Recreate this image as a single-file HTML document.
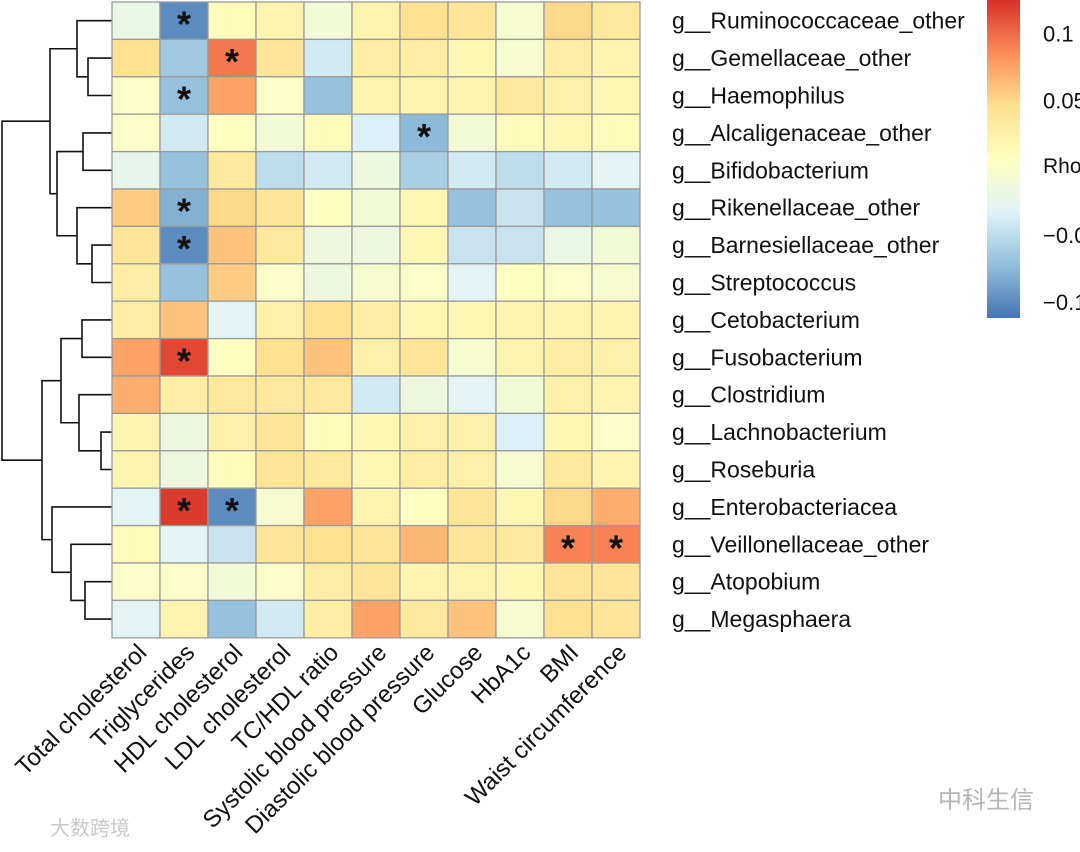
<!DOCTYPE html>
<html><head><meta charset="utf-8"><style>
html,body{margin:0;padding:0;background:#fff;}
svg text{font-family:"Liberation Sans","Noto Sans CJK SC",sans-serif;}
</style></head><body>
<svg id="chart" width="1080" height="847" viewBox="0 0 1080 847" xmlns="http://www.w3.org/2000/svg">
<defs>
<linearGradient id="rhoGrad" x1="0" y1="0" x2="0" y2="1">
<stop offset="0" stop-color="#D73027"/><stop offset="0.1667" stop-color="#FC8D59"/><stop offset="0.3333" stop-color="#FEE090"/><stop offset="0.5" stop-color="#FFFFBF"/><stop offset="0.6667" stop-color="#E0F3F8"/><stop offset="0.8333" stop-color="#91BFDB"/><stop offset="1" stop-color="#4575B4"/>
</linearGradient>
</defs>
<g id="dendro"></g>
<g id="cells"></g>
<g id="rowlabels"></g>
<g id="collabels"></g>
<g>
<rect x="987" y="0" width="33" height="318" fill="url(#rhoGrad)"/>
<g id="legendticks"></g>
<text x="1043" y="173" font-size="21" fill="#111">Rho</text>
</g>
<text x="938" y="808" font-size="24" fill="#b5b5b5">中科生信</text>
<text x="50" y="835" font-size="20" fill="#c8c8c8">大数跨境</text>
</svg>
<script>
const rowNames=["g__Ruminococcaceae_other","g__Gemellaceae_other","g__Haemophilus","g__Alcaligenaceae_other","g__Bifidobacterium","g__Rikenellaceae_other","g__Barnesiellaceae_other","g__Streptococcus","g__Cetobacterium","g__Fusobacterium","g__Clostridium","g__Lachnobacterium","g__Roseburia","g__Enterobacteriacea","g__Veillonellaceae_other","g__Atopobium","g__Megasphaera"];
const colNames=["Total cholesterol","Triglycerides","HDL cholesterol","LDL cholesterol","TC/HDL ratio","Systolic blood pressure","Diastolic blood pressure","Glucose","HbA1c","BMI","Waist circumference"];
const rho=[
[-0.02,-0.10,0.01,0.02,-0.01,0.02,0.045,0.04,-0.005,0.05,0.035],
[0.045,-0.065,0.095,0.04,-0.04,0.03,0.03,0.015,-0.005,0.03,0.02],
[0.0,-0.07,0.075,0.0,-0.07,0.02,0.02,0.02,0.035,0.025,0.015],
[0.0,-0.04,0.005,-0.01,0.01,-0.035,-0.075,-0.01,0.01,0.015,0.01],
[-0.025,-0.07,0.035,-0.05,-0.04,-0.015,-0.06,-0.04,-0.05,-0.04,-0.03],
[0.055,-0.08,0.05,0.04,0.005,-0.01,0.015,-0.07,-0.045,-0.07,-0.07],
[0.04,-0.10,0.06,0.035,-0.015,-0.015,0.015,-0.045,-0.045,-0.02,-0.01],
[0.03,-0.07,0.055,0.0,-0.015,-0.005,0.0,-0.03,0.005,0.0,-0.005],
[0.03,0.06,-0.03,0.025,0.045,0.03,0.015,0.015,0.02,0.02,0.02],
[0.075,0.115,0.005,0.045,0.06,0.025,0.04,-0.005,0.02,0.03,0.025],
[0.07,0.03,0.035,0.035,0.035,-0.04,-0.015,-0.03,-0.01,0.025,0.02],
[0.02,-0.015,0.025,0.04,0.01,0.015,0.025,0.025,-0.035,0.015,0.0],
[0.02,-0.015,0.01,0.04,0.035,0.015,0.03,0.025,-0.005,0.035,0.02],
[-0.03,0.12,-0.10,-0.005,0.075,0.02,0.005,0.04,0.015,0.05,0.07],
[0.01,-0.03,-0.045,0.04,0.045,0.04,0.065,0.04,0.035,0.09,0.09],
[0.0,0.0,-0.01,0.0,0.03,0.04,0.02,0.02,0.015,0.04,0.04],
[-0.03,0.02,-0.07,-0.04,0.03,0.075,0.035,0.06,-0.005,0.045,0.04]];
const sigCells=[[0,1],[1,2],[2,1],[3,6],[5,1],[6,1],[9,1],[13,1],[13,2],[14,9],[14,10]];
const legendTicks=[0.1,0.05,-0.05,-0.1];
const legendTickText=["0.1","0.05","\u22120.05","\u22120.1"];
// dendrogram merges: [leftChild,rightChild,height]; leaves = row index, nodes = "n"+index
const merges=[
[1,2,88],[6,7,92],[3,4,83],[5,"n1",77],[0,"n0",77],["n2","n3",57],["n4","n5",50],
[11,12,101],[8,9,82],[10,"n7",79],["n8","n9",61],[15,16,85],[14,"n11",71],[13,"n12",52],["n10","n13",42],["n6","n14",2]];

const NS="http://www.w3.org/2000/svg";
const gx0=112,gy0=2,cw=48,ch=37.4,vmin=-0.112,vmax=0.125;
const stops=[[0,"#4575B4"],[1/6,"#91BFDB"],[2/6,"#E0F3F8"],[3/6,"#FFFFBF"],[4/6,"#FEE090"],[5/6,"#FC8D59"],[1,"#D73027"]];
function hex(h){return [1,3,5].map(i=>parseInt(h.substr(i,2),16));}
function color(v){let t=(v-vmin)/(vmax-vmin);t=Math.max(0,Math.min(1,t));
for(let i=0;i<stops.length-1;i++){if(t<=stops[i+1][0]){const a=hex(stops[i][1]),b=hex(stops[i+1][1]);const f=(t-stops[i][0])/(stops[i+1][0]-stops[i][0]);
return "rgb("+a.map((c,k)=>Math.round(c+(b[k]-c)*f)).join(",")+")";}}return stops[6][1];}
const xOf=c=>gx0+c*cw, yOf=r=>gy0+r*ch;
const legY=v=>(vmax-v)/(vmax-vmin)*318;
function mk(tag,attrs,parent){const e=document.createElementNS(NS,tag);for(const k in attrs)e.setAttribute(k,attrs[k]);parent.appendChild(e);return e;}

const cells=document.getElementById("cells");
rho.forEach((row,r)=>row.forEach((v,c)=>{
const e=mk("rect",{x:xOf(c),y:yOf(r),width:cw,height:ch,fill:color(v),stroke:"#9a9a9a","stroke-width":1.3},cells);


}));
sigCells.forEach(([r,c])=>{
const t=mk("text",{x:xOf(c)+cw/2,y:yOf(r)+ch/2+16,"text-anchor":"middle","font-size":36,"font-weight":"bold",fill:"#111"},cells);
t.textContent="*";


});
const rl=document.getElementById("rowlabels");
rowNames.forEach((n,r)=>{
const t=mk("text",{x:672,y:yOf(r)+ch/2+8,"font-size":23,fill:"#111"},rl);
t.textContent=n;


});
const cl=document.getElementById("collabels");
colNames.forEach((n,c)=>{
const x=xOf(c)+cw/2+12,y=654;
const t=mk("text",{x:x,y:y,"text-anchor":"end","font-size":24,fill:"#111",transform:"rotate(-45 "+x+" "+y+")"},cl);
t.textContent=n;


});
const lt=document.getElementById("legendticks");
legendTicks.forEach((v,i)=>{
const t=mk("text",{x:1043,y:legY(v)+8,"font-size":22,fill:"#111"},lt);
t.textContent=legendTickText[i];


});
// dendrogram
const dg=document.getElementById("dendro");
const nodeY={},nodeX={};
function getY(k){return typeof k==="number"?yOf(k)+ch/2:nodeY[k];}
function getX(k){return typeof k==="number"?gx0:nodeX[k];}
merges.forEach((m,i)=>{
const [a,b,h]=m;const ya=getY(a),yb=getY(b);
const p=mk("path",{d:"M"+getX(a)+" "+ya+"H"+h+"V"+yb+"H"+getX(b),fill:"none",stroke:"#111","stroke-width":1.6},dg);


nodeY["n"+i]=(ya+yb)/2;nodeX["n"+i]=h;
});
</script>
</body></html>
